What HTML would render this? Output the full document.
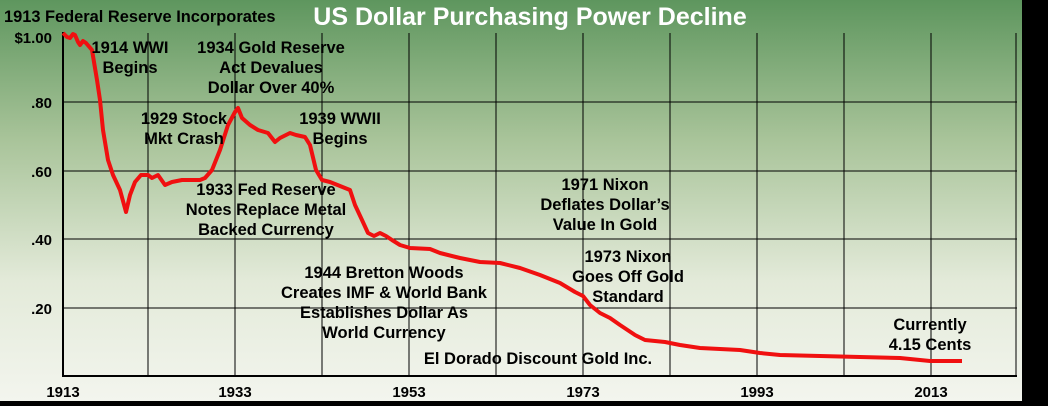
<!DOCTYPE html>
<html><head><meta charset="utf-8"><style>
html,body{margin:0;padding:0;width:1048px;height:406px;overflow:hidden;background:#000}
svg{display:block}
text{font-family:"Liberation Sans",sans-serif;font-weight:bold}
</style></head><body>
<svg width="1048" height="406" viewBox="0 0 1048 406">
<defs><linearGradient id="g" x1="0" y1="0" x2="0" y2="1">
<stop offset="0" stop-color="#5e965e"/><stop offset="0.35" stop-color="#a9c49a"/><stop offset="0.7" stop-color="#e3ead9"/><stop offset="1" stop-color="#f3f5ee"/></linearGradient></defs>
<rect x="0" y="0" width="1022" height="401" fill="url(#g)"/>
<g stroke="#000" stroke-width="1">
<line x1="63" y1="102" x2="1017" y2="102"/><line x1="63" y1="171" x2="1017" y2="171"/>
<line x1="63" y1="239" x2="1017" y2="239"/><line x1="63" y1="308" x2="1017" y2="308"/>
<line x1="148" y1="33" x2="148" y2="376"/><line x1="235" y1="33" x2="235" y2="376"/>
<line x1="322" y1="33" x2="322" y2="376"/><line x1="409" y1="33" x2="409" y2="376"/>
<line x1="496" y1="33" x2="496" y2="376"/><line x1="583" y1="33" x2="583" y2="376"/>
<line x1="670" y1="33" x2="670" y2="376"/><line x1="757" y1="33" x2="757" y2="376"/>
<line x1="844" y1="33" x2="844" y2="376"/><line x1="931" y1="33" x2="931" y2="376"/>
<line x1="1016" y1="33" x2="1016" y2="376"/>
</g>
<line x1="63" y1="32" x2="63" y2="377" stroke="#000" stroke-width="2"/>
<line x1="62" y1="376" x2="1017" y2="376" stroke="#000" stroke-width="2"/>
<polyline fill="none" stroke="#f01010" stroke-width="4" stroke-linejoin="round" points="63,33 67,37 70,38 73,34 75,35 78,42 80,45 83,41 86,43 92,50 97,80 100,100 103,130 108,160 113,175 120,190 126,212 130,195 135,182 141,175 148,175 152,178 158,175 165,185 172,182 182,180 200,180 205,178 212,170 220,150 228,125 235,112 238,108 242,118 250,125 258,130 268,133 275,142 280,138 290,133 296,135 305,137 310,145 316,170 322,180 330,182 340,186 350,190 355,205 362,220 368,233 374,236 380,233 386,236 392,240 400,245 410,248 430,249 440,253 460,258 480,262 500,263 520,268 540,275 560,283 575,292 583,296 590,305 600,313 610,318 620,325 635,335 645,340 665,342 680,345 700,348 720,349 740,350 760,353 780,355 820,356 860,357 900,358 930,361 962,361"/>
<text x="4" y="22" font-size="16.4" fill="#000">1913 Federal Reserve Incorporates</text>
<text x="530" y="25" font-size="25" fill="#fff" text-anchor="middle">US Dollar Purchasing Power Decline</text>
<g font-size="15" fill="#000" text-anchor="end">
<text x="52" y="43">$1.00</text><text x="52" y="108">.80</text><text x="52" y="177">.60</text><text x="52" y="245">.40</text><text x="52" y="314">.20</text>
</g>
<g font-size="15" fill="#000" text-anchor="middle">
<text x="63" y="397">1913</text><text x="235" y="397">1933</text><text x="409" y="397">1953</text><text x="583" y="397">1973</text><text x="757" y="397">1993</text><text x="931" y="397">2013</text>
</g>
<g font-size="16.5" fill="#000" text-anchor="middle">
<text x="130" y="53">1914 WWI</text><text x="130" y="73">Begins</text>
<text x="271" y="53">1934 Gold Reserve</text><text x="271" y="73">Act Devalues</text><text x="271" y="93">Dollar Over 40%</text>
<text x="184" y="124">1929 Stock</text><text x="184" y="144">Mkt Crash</text>
<text x="340" y="124">1939 WWII</text><text x="340" y="144">Begins</text>
<text x="266" y="195">1933 Fed Reserve</text><text x="266" y="215">Notes Replace Metal</text><text x="266" y="235">Backed Currency</text>
<text x="605" y="190">1971 Nixon</text><text x="605" y="210">Deflates Dollar’s</text><text x="605" y="230">Value In Gold</text>
<text x="628" y="262">1973 Nixon</text><text x="628" y="282">Goes Off Gold</text><text x="628" y="302">Standard</text>
<text x="384" y="278">1944 Bretton Woods</text><text x="384" y="298">Creates IMF &amp; World Bank</text><text x="384" y="318">Establishes Dollar As</text><text x="384" y="338">World Currency</text>
<text x="538" y="364">El Dorado Discount  Gold Inc.</text>
<text x="930" y="330">Currently</text><text x="930" y="350">4.15 Cents</text>
</g>
</svg>
</body></html>
